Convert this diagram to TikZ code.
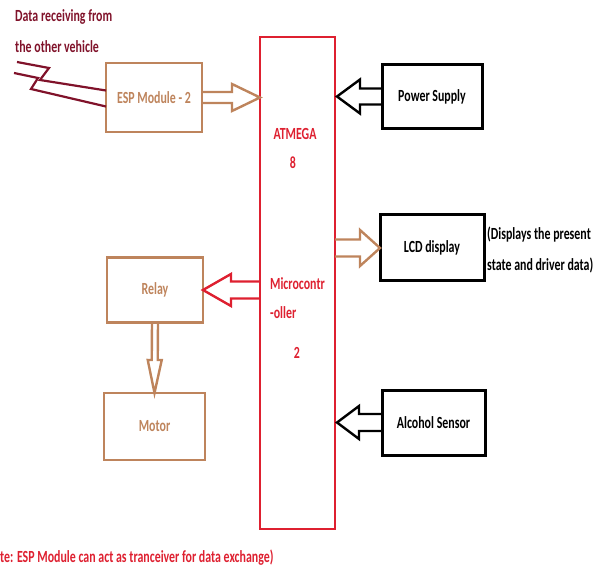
\documentclass[tikz,border=0pt]{standalone}
\usepackage{fontspec}
\setmainfont{Carlito}
\newfontfamily\tallfont{Carlito}[FakeStretch=0.7]
\usetikzlibrary{calc,positioning}
\definecolor{clay}{RGB}{190,132,92}
\definecolor{chipred}{RGB}{222,32,48}
\definecolor{wine}{RGB}{128,18,42}
\tikzset{
  box/.style={draw=#1,line width=2.4pt,outer sep=0pt,align=center,
    font=\tallfont\fontsize{17}{19}\selectfont\bfseries},
  box/.default=black,
  label/.style={text=#1,inner sep=0pt,font=\tallfont\fontsize{17}{19}\selectfont\bfseries},
  label/.default=black,
  flow/.style={draw=#1,line width=2.4pt,line join=miter},
  flow/.default=clay,
  % hollow block arrow: shaft half width, head half width, head length
  fat/.style n args={3}{to path={let \p1=(\tikztostart), \p2=(\tikztotarget),
      \p3=($(\p2)!#3pt!(\p1)$) in
      ($(\p1)!#1pt!90:(\p2)$) -- ($(\p3)!#1pt!90:(\p2)$) -- ($(\p3)!#2pt!90:(\p2)$)
      -- (\p2) -- ($(\p3)!#2pt!-90:(\p2)$) -- ($(\p3)!#1pt!-90:(\p2)$)
      -- ($(\p1)!#1pt!-90:(\p2)$)}},
  bolt/.style={draw=wine,line width=2.2pt,line join=miter},
}
\begin{document}
\begin{tikzpicture}[x=1pt,y=-1pt]
  \useasboundingbox (0,0) rectangle (603,572);
  % controller
  \node[draw=chipred,line width=1.6pt,minimum width=75pt,minimum height=492pt,outer sep=0pt] (mcu) at (297.5,283) {};
  \node[label=chipred] (mcu1) at (295,134) {ATMEGA};
  \node[label=chipred] (mcu2) at (293,163) {8};
  \node[label=chipred] (mcu3) at (297.5,284) {Microcontr};
  \node[label=chipred,anchor=west] (mcu4) at (270,313) {-oller};
  \node[label=chipred] (mcu5) at (297,353) {2};
  % left side
  \node[box=clay,text=clay,minimum width=96pt,minimum height=69pt] (esp) at (154,97.5) {ESP Module - 2};
  \node[box=clay,text=clay,minimum width=96pt,minimum height=65pt] (relay) at (155,290) {Relay};
  \node[box=clay,text=clay,minimum width=101pt,minimum height=67pt] (motor) at (154.5,426.5) {Motor};
  % right side
  \node[box,line width=3pt,minimum width=100pt,minimum height=64pt] (power) at (432,96.5) {Power Supply};
  \node[box,line width=3pt,minimum width=104pt,minimum height=66pt] (lcd) at (432,248) {LCD display};
  \node[box,line width=3pt,minimum width=103pt,minimum height=65pt] (alcohol) at (433.5,422.5) {Alcohol Sensor};
  % notes
  \node[label=wine,anchor=west] (rx1) at (15,17) {Data receiving from};
  \node[label=wine,anchor=west] (rx2) at (15,47) {the other vehicle};
  \node[label,anchor=west] (lcd1) at (487,235) {(Displays the present};
  \node[label,anchor=west] (lcd2) at (487,265) {state and driver data)};
  \node[label=chipred,anchor=west] (foot) at (0,558) {te: ESP Module can act as tranceiver for data exchange)};
  % radio link
  \draw[bolt] (17,62) -- (49,68) -- (40,80) -- ($(esp.west)+(0,-7)$);
  \draw[bolt] (14,73) -- (38,78) -- (31,89) -- ($(esp.west)+(0,9)$);
  % block arrows
  \draw[flow,fat={5.5}{13.5}{28}] (esp.east) to (esp.east -| mcu.west);
  \draw[flow=black,fat={8}{17}{23}] (power.west) to ($(power.west -| mcu.east)+(2,0)$);
  \draw[flow,fat={8.5}{18}{20}] (lcd.west -| mcu.east) to (lcd.west);
  \draw[flow=chipred,fat={8.5}{16}{28}] (relay.east -| mcu.west) to (relay.east);
  \draw[flow,fat={3}{7}{33}] (relay.south) to (motor.north);
  \draw[flow=black,fat={8.5}{16.5}{22}] (alcohol.west) to ($(alcohol.west -| mcu.east)+(2,0)$);
\end{tikzpicture}
\end{document}
